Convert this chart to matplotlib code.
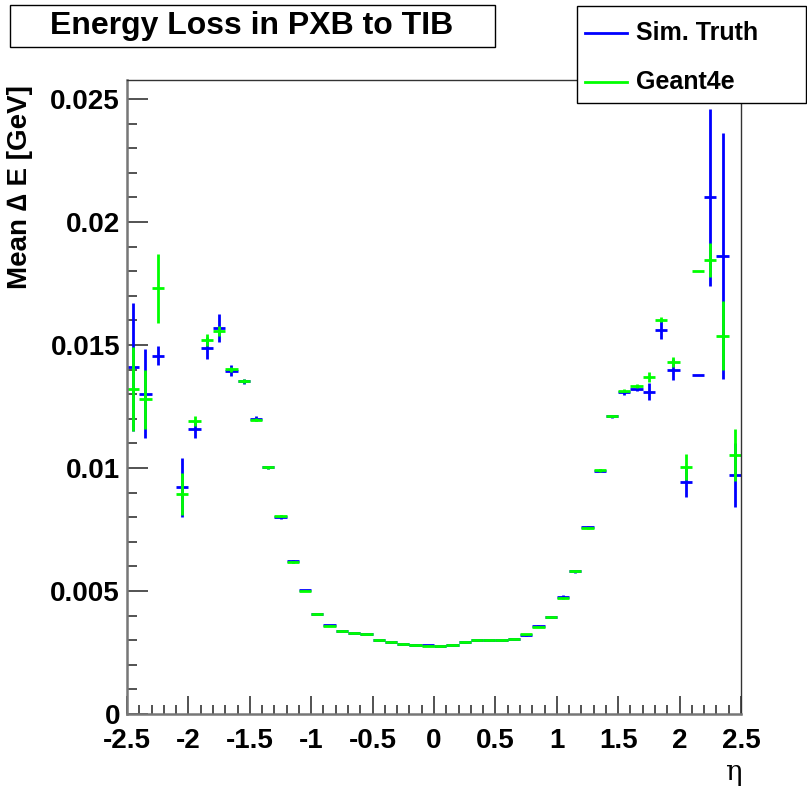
import numpy as np
import matplotlib
matplotlib.use("Agg")
import matplotlib.pyplot as plt
from matplotlib.patches import Rectangle
from matplotlib.lines import Line2D
from matplotlib.ticker import MultipleLocator, FuncFormatter

plt.rcParams['font.family'] = ['Liberation Sans', 'DejaVu Sans']

# ---- data ----
eta = [-2.45, -2.35, -2.25, -2.15, -2.05, -1.95, -1.85, -1.75, -1.65, -1.55,
       -1.45, -1.35, -1.25, -1.15, -1.05, -0.95, -0.85, -0.75, -0.65, -0.55,
       -0.45, -0.35, -0.25, -0.15, -0.05, 0.05, 0.15, 0.25, 0.35, 0.45,
       0.55, 0.65, 0.75, 0.85, 0.95, 1.05, 1.15, 1.25, 1.35, 1.45,
       1.55, 1.65, 1.75, 1.85, 1.95, 2.05, 2.15, 2.25, 2.35, 2.45]

sim_truth = [0.01409, 0.01302, 0.01457, np.nan, 0.00921, 0.01157, 0.01487, 0.01569, 0.01396, 0.01352,
             0.01200, 0.01003, 0.00800, 0.00621, 0.00502, 0.00408, 0.00360, 0.00337, 0.00331, 0.00327,
             0.00301, 0.00293, 0.00286, 0.00280, 0.00279, 0.00275, 0.00281, 0.00293, 0.00302, 0.00301,
             0.00300, 0.00304, 0.00320, 0.00356, 0.00395, 0.00477, 0.00580, 0.00760, 0.00989, 0.01211,
             0.01308, 0.01322, 0.01310, 0.01562, 0.01400, 0.00944, 0.01378, 0.02100, 0.01863, 0.00972]
sim_truth_err = [0.0026, 0.0018, 0.0004, np.nan, 0.0012, 0.00035, 0.00044, 0.00057, 0.00022, 0.0001,
                 0.0001, 0.00006, 0.00008, 0.00006, 0.00004, 0.00003, 0.00003, 0.00003, 0.00003, 0.00003,
                 0.00003, 0.00003, 0.00003, 0.00003, 0.00003, 0.00003, 0.00003, 0.00003, 0.00003, 0.00003,
                 0.00003, 0.00003, 0.00004, 0.00004, 0.00004, 0.00005, 0.00005, 0.00006, 0.00006, 0.00006,
                 0.0001, 0.0001, 0.00034, 0.00037, 0.00044, 0.0006, 0.0, 0.0036, 0.005, 0.0013]

geant4e = [0.01320, 0.01279, 0.01730, np.nan, 0.00894, 0.01190, 0.01519, 0.01557, 0.01401, 0.01355,
           0.01196, 0.01002, 0.00804, 0.00619, 0.00501, 0.00407, 0.00359, 0.00336, 0.00331, 0.00325,
           0.00301, 0.00294, 0.00286, 0.00279, 0.00278, 0.00276, 0.00282, 0.00294, 0.00302, 0.00302,
           0.00302, 0.00306, 0.00325, 0.00355, 0.00393, 0.00470, 0.00581, 0.00755, 0.00990, 0.01212,
           0.01313, 0.01335, 0.01370, 0.01603, 0.01432, 0.01005, 0.01800, 0.01846, 0.01537, 0.01052]
geant4e_err = [0.0017, 0.0012, 0.0014, np.nan, 0.00086, 0.0002, 0.00025, 0.0002, 0.0001, 0.00008,
               0.00006, 0.00005, 0.00005, 0.00004, 0.00003, 0.00003, 0.00002, 0.00002, 0.00002, 0.00002,
               0.00002, 0.00002, 0.00002, 0.00002, 0.00002, 0.00002, 0.00002, 0.00002, 0.00002, 0.00002,
               0.00002, 0.00002, 0.00002, 0.00003, 0.00003, 0.00003, 0.00004, 0.00004, 0.00005, 0.00005,
               0.00006, 0.00008, 0.0002, 0.0001, 0.0002, 0.00052, 0.0, 0.0007, 0.0014, 0.00105]

bin_half_width = 0.05
title = "Energy Loss in PXB to TIB"
labels = ["Sim. Truth", "Geant4e"]
colors = ["#0000ff", "#00ff00"]

W, H = 807, 788
fig = plt.figure(figsize=(W / 100, H / 100), dpi=100)
ax = fig.add_axes([127 / W, 1 - 714 / H, (741 - 127) / W, (714 - 80) / H])

for y, e, c in [(sim_truth, sim_truth_err, colors[0]), (geant4e, geant4e_err, colors[1])]:
    ax.errorbar(eta, y, xerr=bin_half_width, yerr=e, fmt='none', ecolor=c,
                elinewidth=2, capsize=0)

ax.set_xlim(-2.5, 2.5)
ax.set_ylim(0, 0.02577)
ax.xaxis.set_major_locator(MultipleLocator(0.5))
ax.xaxis.set_minor_locator(MultipleLocator(0.1))
ax.yaxis.set_major_locator(MultipleLocator(0.005))
ax.yaxis.set_minor_locator(MultipleLocator(0.001))
ax.xaxis.set_major_formatter(FuncFormatter(lambda v, p: "%g" % round(v, 3)))
ax.yaxis.set_major_formatter(FuncFormatter(lambda v, p: "%g" % round(v, 4)))

ax.tick_params(axis='both', which='both', direction='in', top=False, right=False,
               color='#444444', width=1.3)
ax.tick_params(axis='y', which='major', length=15, pad=5, labelsize=20)
ax.tick_params(axis='y', which='minor', length=7.5)
ax.tick_params(axis='x', which='major', length=13, pad=10, labelsize=20)
ax.tick_params(axis='x', which='minor', length=6.5)
for lab in ax.get_xticklabels() + ax.get_yticklabels():
    lab.set_fontweight('bold')
for s in ['left', 'bottom']:
    ax.spines[s].set_color('#777777')
    ax.spines[s].set_linewidth(1.8)
for s in ['top', 'right']:
    ax.spines[s].set_color('#333333')
    ax.spines[s].set_linewidth(1.0)

# axis titles
fig.text(20 / W, 1 - 85 / H, "Mean \u2206 E [GeV]", rotation=90, ha='center', va='top',
         fontsize=20, fontweight='bold')
fig.text(733 / W, 1 - 773 / H, "\u03b7", ha='center', va='center', fontsize=20,
         family=['DejaVu Serif'])

# title box
fig.add_artist(Rectangle((10 / W, 1 - 47 / H), (495 - 10) / W, (47 - 5) / H,
                         transform=fig.transFigure, facecolor='white', edgecolor='black',
                         linewidth=1.0, zorder=10))
fig.text(252 / W, 1 - 26 / H, title, ha='center', va='center', fontsize=23,
         fontweight='bold', zorder=11)

# legend box
fig.add_artist(Rectangle((577 / W, 1 - 103 / H), (806 - 577) / W, (103 - 6) / H,
                         transform=fig.transFigure, facecolor='white', edgecolor='black',
                         linewidth=1.0, zorder=10))
for yy, lab, c in [(33, labels[0], colors[0]), (82, labels[1], colors[1])]:
    fig.add_artist(Line2D([585 / W, 627 / W], [1 - yy / H, 1 - yy / H],
                          transform=fig.transFigure, color=c, linewidth=2, zorder=11))
    fig.text(636 / W, 1 - yy / H, lab, ha='left', va='center', fontsize=18,
             fontweight='bold', zorder=11)

fig.savefig("out.png", dpi=100)
